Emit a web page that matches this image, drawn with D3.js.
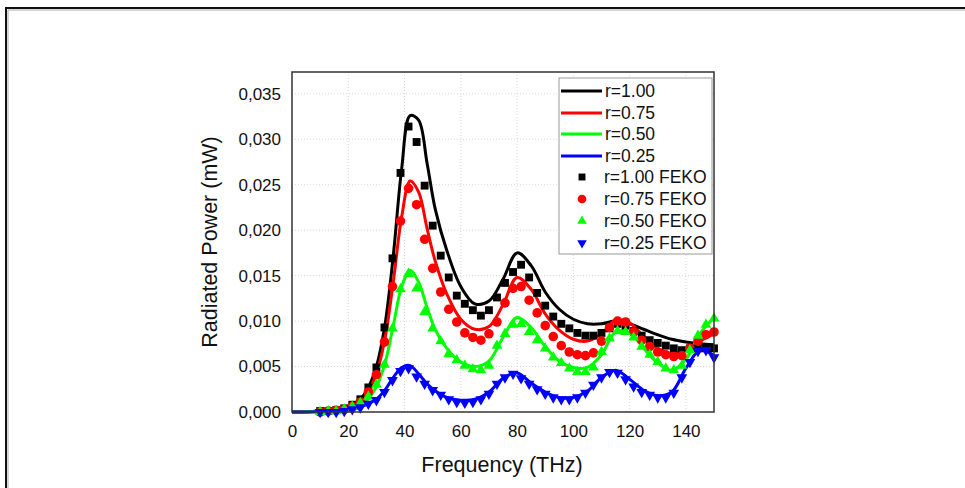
<!DOCTYPE html>
<html lang="en">
<head>
<meta charset="utf-8">
<title>Radiated Power</title>
<script src="https://cdn.jsdelivr.net/npm/d3@7/dist/d3.min.js"></script>
<style type="text/css">
body { margin: 0; background: #fff; }
svg text { font-family: Arial, "Liberation Sans", sans-serif; fill: #111; }
.grid line { stroke: #d8d8d8; stroke-width: 1px; stroke-dasharray: 1,2; }
.frame { fill: none; stroke: #333; stroke-width: 1.5px; }
.curve { fill: none; stroke-width: 3px; stroke-linejoin: round; }
</style>
</head>
<body>
<div id="chart"></div>
<script type="text/javascript">
"use strict";

// line series (model), sampled in THz
var lineFreq = [0, 5, 10, 15, 20, 24, 27, 30, 33, 36, 39, 42, 45, 48, 51, 55, 60, 65, 70, 75,
                80, 85, 90, 95, 100, 105, 110, 115, 120, 125, 130, 135, 140, 145, 150];
var lineR100 = [0, 0.00003, 0.0001, 0.0002, 0.0005, 0.0013, 0.0026, 0.0050, 0.0095, 0.0172, 0.0268, 0.0326,
                0.0321, 0.0274, 0.0222, 0.0178, 0.0138, 0.0119, 0.0122, 0.0146, 0.0175, 0.0161, 0.0132, 0.0113,
                0.0102, 0.0097, 0.0097, 0.0100, 0.0097, 0.0091, 0.0085, 0.0080, 0.0077, 0.0075, 0.0074];
var lineR075 = [0, 0.00003, 0.0001, 0.0002, 0.0004, 0.0011, 0.0022, 0.0042, 0.0080, 0.0143, 0.0215, 0.0254,
                0.0242, 0.0202, 0.0165, 0.0130, 0.0102, 0.0091, 0.0094, 0.0118, 0.0148, 0.0135, 0.0108, 0.0090,
                0.0080, 0.0078, 0.0086, 0.0101, 0.0098, 0.0083, 0.0070, 0.0064, 0.0068, 0.0078, 0.0086];
var lineR050 = [0, 0.00002, 0.00005, 0.0001, 0.0003, 0.0007, 0.0014, 0.0028, 0.0053, 0.0095, 0.0138, 0.0156,
                0.0143, 0.0115, 0.0090, 0.0070, 0.0055, 0.0050, 0.0056, 0.0082, 0.0104, 0.0093, 0.0072, 0.0056,
                0.0049, 0.0049, 0.0063, 0.0088, 0.0087, 0.0070, 0.0054, 0.0046, 0.0058, 0.0086, 0.0104];
var lineR025 = [0, 0.00001, 0.00003, 0.0001, 0.0002, 0.0005, 0.0009, 0.0014, 0.0024, 0.0038, 0.0049, 0.0051,
                0.0042, 0.0031, 0.0023, 0.0016, 0.0013, 0.0014, 0.0022, 0.0037, 0.0043, 0.0032, 0.0022, 0.0016,
                0.0016, 0.0023, 0.0038, 0.0046, 0.0036, 0.0024, 0.0018, 0.0022, 0.0048, 0.0068, 0.0062];

// FEKO points
var fekoFreq = [10.00, 12.86, 15.71, 18.57, 21.43, 24.29, 27.14, 30.00, 32.86, 35.71,
                38.57, 41.43, 44.29, 47.14, 50.00, 52.86, 55.71, 58.57, 61.43, 64.29,
                67.14, 70.00, 72.86, 75.71, 78.57, 81.43, 84.29, 87.14, 90.00, 92.86,
                95.71, 98.57, 101.43, 104.29, 107.14, 110.00, 112.86, 115.71, 118.57, 121.43,
                124.29, 127.14, 130.00, 132.86, 135.71, 138.57, 141.43, 144.29, 147.14, 150.00];
var fekoR100 = [0.0001, 0.0001, 0.0002, 0.0004, 0.0008, 0.0014, 0.0027, 0.0049, 0.0093, 0.0169,
                0.0263, 0.0314, 0.0297, 0.0249, 0.0205, 0.0172, 0.0148, 0.0128, 0.0119, 0.0112,
                0.0106, 0.0112, 0.0126, 0.0142, 0.0154, 0.0162, 0.0148, 0.0131, 0.0117, 0.0105,
                0.0097, 0.0092, 0.0087, 0.0084, 0.0084, 0.0087, 0.0092, 0.0097, 0.0095, 0.0089,
                0.0084, 0.0079, 0.0076, 0.0073, 0.0070, 0.0068, 0.0070, 0.0070, 0.0070, 0.0070];
var fekoR075 = [0.0000, 0.0001, 0.0002, 0.0003, 0.0006, 0.0011, 0.0022, 0.0041, 0.0077, 0.0138,
                0.0210, 0.0246, 0.0228, 0.0190, 0.0158, 0.0132, 0.0113, 0.0099, 0.0087, 0.0082,
                0.0079, 0.0086, 0.0099, 0.0120, 0.0136, 0.0138, 0.0123, 0.0109, 0.0095, 0.0083,
                0.0073, 0.0066, 0.0063, 0.0062, 0.0065, 0.0078, 0.0093, 0.0100, 0.0099, 0.0088,
                0.0079, 0.0072, 0.0066, 0.0063, 0.0061, 0.0062, 0.0070, 0.0078, 0.0085, 0.0088];
var fekoR050 = [0.0000, 0.0001, 0.0001, 0.0003, 0.0006, 0.0010, 0.0017, 0.0030, 0.0052, 0.0092,
                0.0135, 0.0152, 0.0136, 0.0110, 0.0092, 0.0078, 0.0064, 0.0057, 0.0051, 0.0047,
                0.0046, 0.0051, 0.0073, 0.0086, 0.0096, 0.0097, 0.0088, 0.0079, 0.0070, 0.0060,
                0.0054, 0.0048, 0.0044, 0.0044, 0.0049, 0.0066, 0.0081, 0.0089, 0.0088, 0.0082,
                0.0072, 0.0063, 0.0055, 0.0048, 0.0046, 0.0051, 0.0068, 0.0084, 0.0096, 0.0103];
var fekoR025 = [0.0000, 0.0000, 0.0000, 0.0001, 0.0003, 0.0005, 0.0009, 0.0013, 0.0022, 0.0035,
                0.0045, 0.0048, 0.0039, 0.0031, 0.0024, 0.0019, 0.0014, 0.0011, 0.0010, 0.0011,
                0.0014, 0.0020, 0.0031, 0.0038, 0.0042, 0.0037, 0.0031, 0.0025, 0.0020, 0.0016,
                0.0014, 0.0014, 0.0016, 0.0021, 0.0030, 0.0038, 0.0044, 0.0043, 0.0036, 0.0028,
                0.0022, 0.0019, 0.0016, 0.0016, 0.0021, 0.0038, 0.0055, 0.0067, 0.0068, 0.0060];

var xTicks = [0, 20, 40, 60, 80, 100, 120, 140];
var yTicks = [0, 0.005, 0.010, 0.015, 0.020, 0.025, 0.030, 0.035];

var lineLabels = ["r=1.00", "r=0.75", "r=0.50", "r=0.25"];
var fekoLabels = ["r=1.00 FEKO", "r=0.75 FEKO", "r=0.50 FEKO", "r=0.25 FEKO"];
var colors = ["#000000", "#ff0000", "#00ff00", "#0000ff"];

var width = 965, height = 488;
var plotL = 292, plotR = 714, plotT = 72, plotB = 412;

var svg = d3.select("#chart").append("svg")
    .attr("width", width)
    .attr("height", height);

// outer page frame
svg.append("path").attr("d", "M7,490 V9 H970")
    .attr("fill", "none").attr("stroke", "#aaa").attr("stroke-width", 1).attr("transform", "translate(1,1)");
svg.append("path").attr("d", "M6,490 V8 H970")
    .attr("fill", "none").attr("stroke", "#111").attr("stroke-width", 2);

var x = d3.scaleLinear().domain([0, 150]).range([plotL, plotR]);
var y = d3.scaleLinear().domain([0, 0.0374]).range([plotB, plotT]);

// grid
var grid = svg.append("g").attr("class", "grid");
grid.selectAll(".vx").data(xTicks.slice(1)).enter().append("line")
    .attr("x1", function(d) { return x(d); }).attr("x2", function(d) { return x(d); })
    .attr("y1", plotT).attr("y2", plotB);
grid.selectAll(".hy").data(yTicks.slice(1)).enter().append("line")
    .attr("x1", plotL).attr("x2", plotR)
    .attr("y1", function(d) { return y(d); }).attr("y2", function(d) { return y(d); });

// axes (labels only, no tick marks)
var fmt = function(d) { return d3.format(".3f")(d).replace(".", ","); };
var xAxis = svg.append("g").attr("transform", "translate(0," + plotB + ")")
    .call(d3.axisBottom(x).tickValues(xTicks).tickSize(0).tickPadding(13));
var yAxis = svg.append("g").attr("transform", "translate(" + plotL + ",0)")
    .call(d3.axisLeft(y).tickValues(yTicks).tickFormat(fmt).tickSize(0).tickPadding(11));
[xAxis, yAxis].forEach(function(a) {
  a.select(".domain").remove();
  a.selectAll("text").style("font-size", "17px").attr("fill", "#111")
    .style("font-family", "Arial, 'Liberation Sans', sans-serif");
});

// curves
var line = d3.line()
    .x(function(d) { return x(d[0]); })
    .y(function(d) { return y(d[1]); })
    .curve(d3.curveCatmullRom.alpha(0.5));

var lineSeries = [lineR100, lineR075, lineR050, lineR025];
lineSeries.forEach(function(vals, i) {
  svg.append("path")
    .datum(lineFreq.map(function(f, k) { return [f, vals[k]]; }))
    .attr("class", "curve")
    .attr("stroke", colors[i])
    .attr("d", line);
});

// FEKO markers
var symbols = [
  d3.symbol().type(d3.symbolSquare).size(62),
  d3.symbol().type(d3.symbolCircle).size(72),
  d3.symbol().type(d3.symbolTriangle).size(50),
  d3.symbol().type(d3.symbolTriangle).size(50)
];
var rot = [0, 0, 0, 180];
var fekoSeries = [fekoR100, fekoR075, fekoR050, fekoR025];
fekoSeries.forEach(function(vals, i) {
  svg.append("g").selectAll("path")
    .data(fekoFreq.map(function(f, k) { return [f, vals[k]]; }))
    .enter().append("path")
    .attr("d", symbols[i])
    .attr("fill", colors[i])
    .attr("transform", function(d) {
      return "translate(" + x(d[0]) + "," + y(d[1]) + ") rotate(" + rot[i] + ")";
    });
});

// plot frame
svg.append("rect").attr("class", "frame")
    .attr("x", plotL).attr("y", plotT)
    .attr("width", plotR - plotL).attr("height", plotB - plotT);

// legend
var lg = svg.append("g");
lg.append("rect").attr("x", 559).attr("y", 78).attr("width", 153).attr("height", 176)
    .attr("fill", "#fff").attr("stroke", "#999").attr("stroke-width", 1);
var rowY = [91, 113, 134, 156, 177, 199, 221, 243];
lineLabels.forEach(function(lab, i) {
  lg.append("line").attr("x1", 561).attr("x2", 602)
    .attr("y1", rowY[i]).attr("y2", rowY[i])
    .attr("stroke", colors[i]).attr("stroke-width", 3);
  lg.append("text").attr("x", 605).attr("y", rowY[i] + 6)
    .style("font-size", "17.5px").text(lab);
});
var legSymbols = [
  d3.symbol().type(d3.symbolSquare).size(48),
  d3.symbol().type(d3.symbolCircle).size(60),
  d3.symbol().type(d3.symbolTriangle).size(40),
  d3.symbol().type(d3.symbolTriangle).size(40)
];
fekoLabels.forEach(function(lab, i) {
  var ry = rowY[i + 4];
  lg.append("path").attr("d", legSymbols[i]).attr("fill", colors[i])
    .attr("transform", "translate(582," + ry + ") rotate(" + rot[i] + ")");
  lg.append("text").attr("x", 604).attr("y", ry + 6)
    .style("font-size", "17.5px").text(lab);
});

// axis titles
svg.append("text").attr("x", (plotL + plotR) / 2 - 1).attr("y", 472)
    .attr("text-anchor", "middle").style("font-size", "21.5px").text("Frequency (THz)");
svg.append("text")
    .attr("transform", "translate(217," + ((plotT + plotB) / 2) + ") rotate(-90)")
    .attr("text-anchor", "middle").style("font-size", "21.5px").text("Radiated Power (mW)");

</script>
</body>
</html>
